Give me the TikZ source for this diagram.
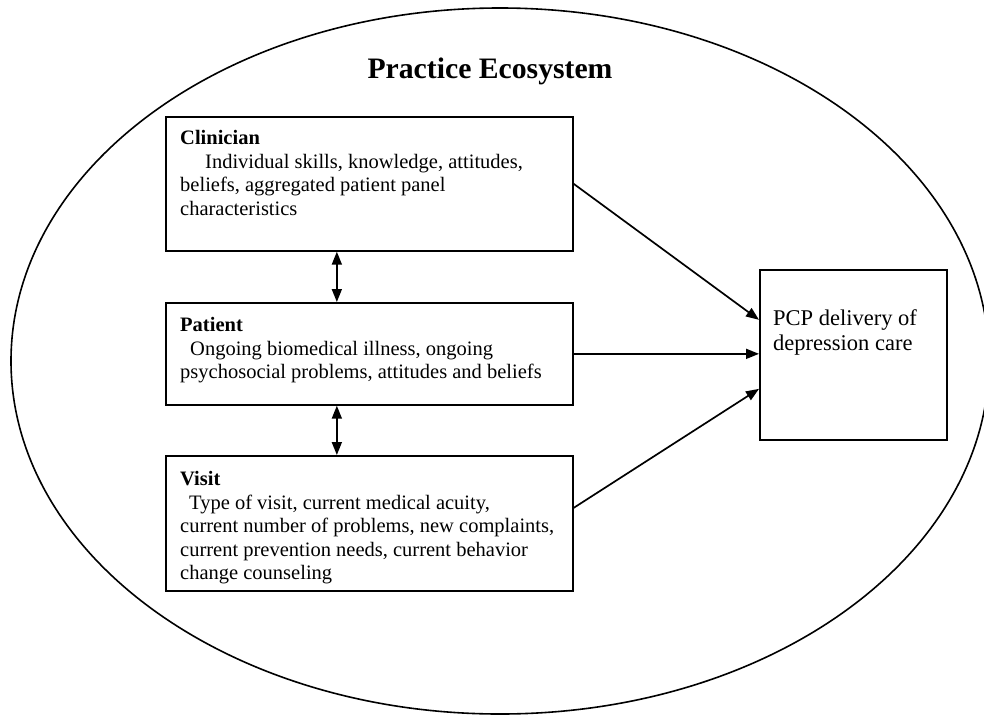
\documentclass[tikz,border=0pt]{standalone}
\usepackage{fontspec}
\setmainfont{Liberation Serif}
\usepackage{tikz}
\usetikzlibrary{arrows.meta}
\usetikzlibrary{positioning}
\tikzset{factor/.style = {draw, line width = 1.7pt, anchor = north west, minimum width = 407pt}}
\tikzset{boxtext/.style = {inner sep = 0, align = left, anchor = north west,
                           font = \fontsize{20.5}{23.5}\selectfont}}
\tikzset{link/.style = {line width = 1.7pt, >={Triangle[length=13pt, width=10pt]}}}

\begin{document}
\begin{tikzpicture}[x = 1pt, y = -1pt]
           \useasboundingbox (0, 0) rectangle (984, 715);

           \draw [line width = 1.6pt] (500, 361) ellipse [x radius = 489pt, y radius = 353pt];
           \node (title) [anchor = base, font = \fontsize{29.7}{32}\selectfont\bfseries] at (490, 78) {Practice Ecosystem};

           \node (clin) [factor, minimum height = 134pt] at (165, 116) {};
           \node (pat) [factor, minimum height = 102pt] at (165, 302) {};
           \node (visit) [factor, minimum height = 135pt] at (165, 455) {};
           \node (pcp) [draw, line width = 1.7pt, anchor = north west, minimum width = 187pt, minimum height = 170pt] at (759, 269) {};

           \node (clintext) [boxtext] at ([shift = {(15pt, -14.5pt)}] clin.north west)
                {\textbf{Clinician}\\ \hspace*{25pt}Individual skills, knowledge, attitudes,\\
                 beliefs, aggregated patient panel\\ characteristics};
           \node (pattext) [boxtext] at ([shift = {(15pt, -15.5pt)}] pat.north west)
                {\textbf{Patient}\\ \hspace*{10pt}Ongoing biomedical illness, ongoing\\
                 psychosocial problems, attitudes and beliefs};
           \node (visittext) [boxtext] at ([shift = {(15pt, -16.5pt)}] visit.north west)
                {\textbf{Visit}\\ \hspace*{9pt}Type of visit, current medical acuity,\\
                 current number of problems, new complaints,\\
                 current prevention needs, current behavior\\ change counseling};
           \node (pcptext) [boxtext, font = \fontsize{22.5}{25}\selectfont] at ([shift = {(14pt, -40.5pt)}] pcp.north west)
                {PCP delivery of\\ depression care};

           \draw [link, <->] ([xshift = -32.5pt] clin.south) -- ([xshift = -32.5pt] pat.north);
           \draw [link, <->] ([xshift = -32.5pt] pat.south) -- ([xshift = -32.5pt] visit.north);

           \draw [link, ->] (clin.east) -- ([yshift = 35pt] pcp.west);
           \draw [link, ->] (pat.east) -- (pat.east -| pcp.west);
           \draw [link, ->] ([yshift = 15.5pt] visit.east) -- ([yshift = -34pt] pcp.west);
\end{tikzpicture}
\end{document}
